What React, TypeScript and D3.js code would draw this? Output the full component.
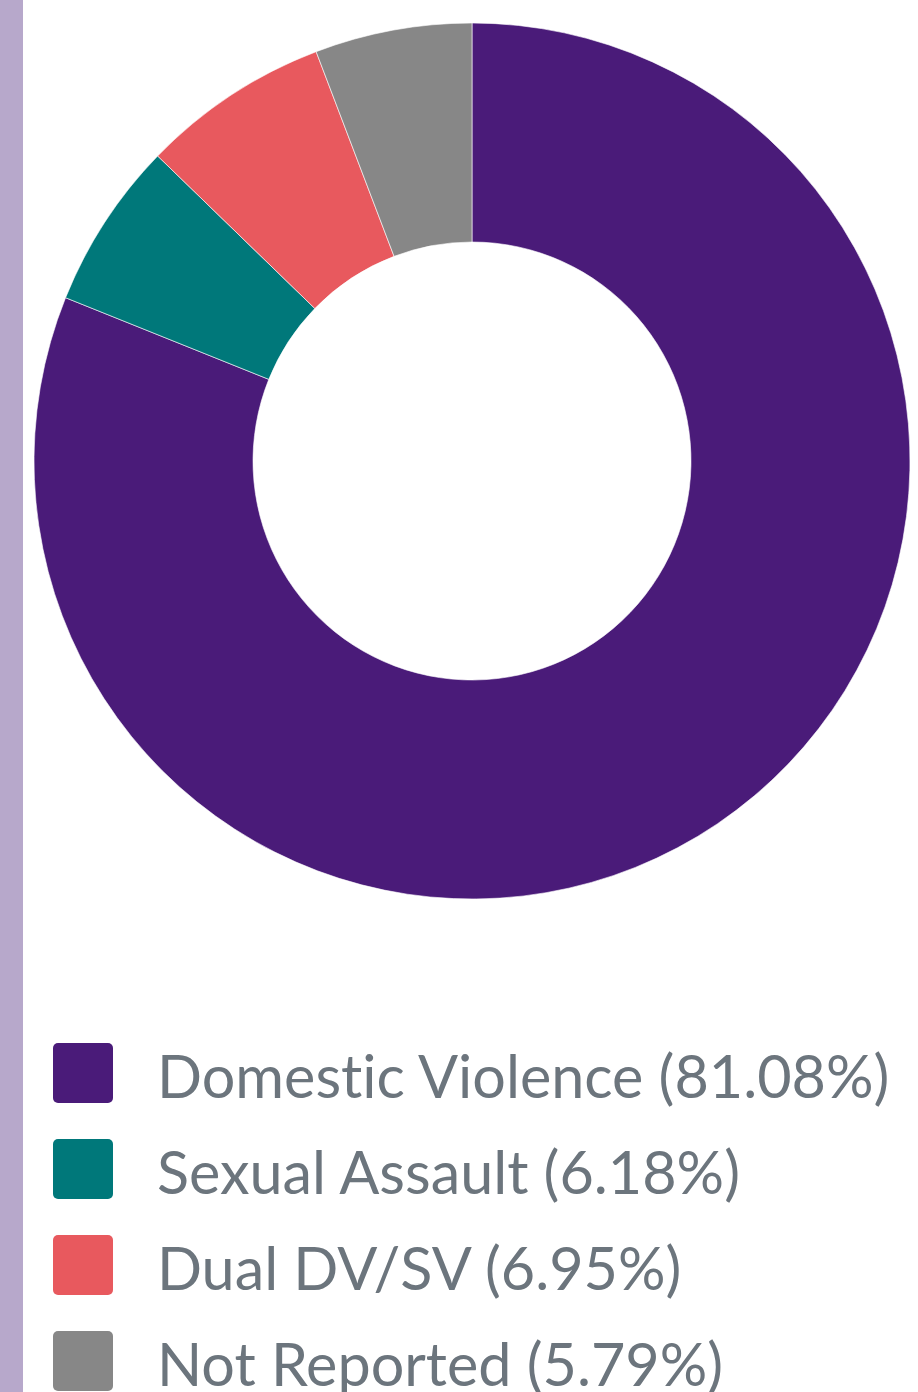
import React, { useMemo } from 'react';
import * as d3 from 'd3';

// Case type breakdown
const categories = ['Domestic Violence', 'Sexual Assault', 'Dual DV/SV', 'Not Reported'];
const percents = [81.08, 6.18, 6.95, 5.79];
const colors = ['#4a1b79', '#00787a', '#e8595e', '#878787'];

const WIDTH = 918;
const HEIGHT = 1392;

const App: React.FC = () => {
  const cx = 472;
  const cy = 461;
  const outerR = 438;
  const innerR = 219;

  const arcs = useMemo(() => {
    const pie = d3.pie<number>().value(d => d).sort(null);
    return pie(percents);
  }, []);

  const arc = d3.arc<d3.PieArcDatum<number>>()
    .innerRadius(innerR)
    .outerRadius(outerR);

  // legend rows
  const rowY = d3.scaleLinear().domain([0, 1]).range([1043, 1139]);

  return (
    <div style={{ position: 'absolute', left: 0, top: 0 }}>
      <svg width={WIDTH} height={HEIGHT} style={{ display: 'block' }}>
        <rect x={0} y={0} width={WIDTH} height={HEIGHT} fill="#fff" />
        <rect x={0} y={0} width={23} height={HEIGHT} fill="#b7a8cb" />
        <g transform={`translate(${cx},${cy})`}>
          {arcs.map((a, i) => (
            <path
              key={categories[i]}
              d={arc(a) || ''}
              fill={colors[i]}
              stroke="#fff"
              strokeWidth={0.6}
            />
          ))}
        </g>
        <g fontFamily="Lato, sans-serif" fontSize={59.3} fill="#6c757d">
          {categories.map((c, i) => (
            <g key={c} transform={`translate(0,${rowY(i)})`}>
              <rect x={53} y={0} width={60} height={60} rx={5} fill={colors[i]} />
              <text
                x={157}
                y={55}
                style={{
                  fontVariantLigatures: 'none',
                  fontFeatureSettings: '"liga" 0, "clig" 0',
                }}
              >
                {`${c} (${percents[i].toFixed(2)}%)`}
              </text>
            </g>
          ))}
        </g>
      </svg>
    </div>
  );
};

export default App;
